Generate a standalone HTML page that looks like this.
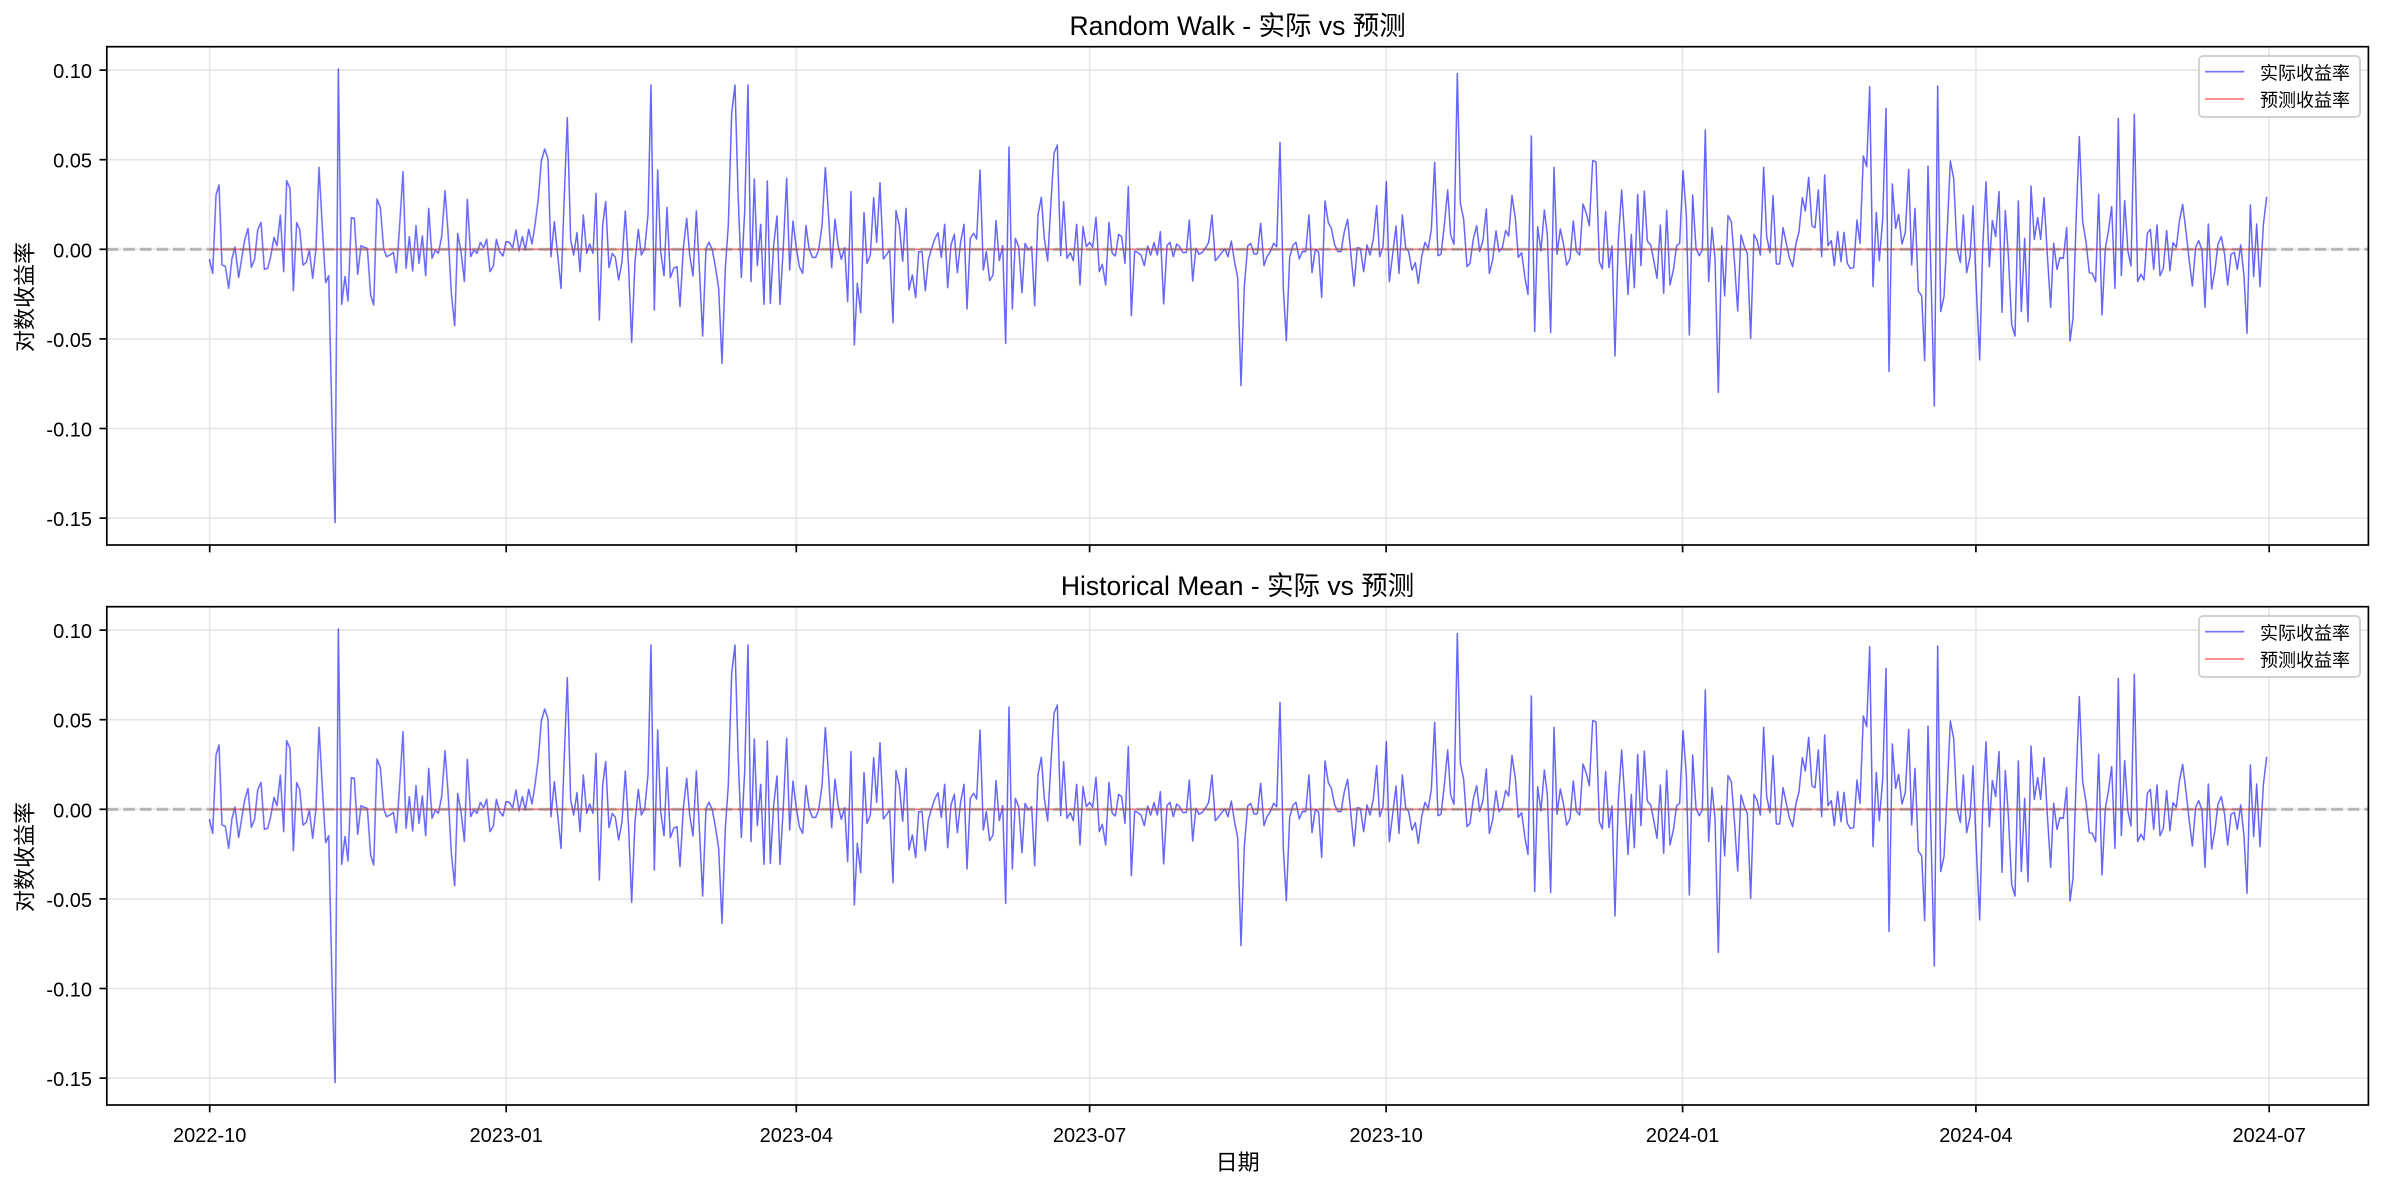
<!DOCTYPE html>
<html>
<head>
<meta charset="utf-8">
<style>
html,body{margin:0;padding:0;background:#fff;}
svg{display:block;}
text{font-family:"Liberation Sans","Noto Sans CJK SC",sans-serif;fill:#000;}
</style>
</head>
<body>
<svg width="2384" height="1186" viewBox="0 0 2384 1186" xmlns="http://www.w3.org/2000/svg">
<defs>
<g id="series" fill="none" stroke="#0000ff" stroke-width="1.5" stroke-linejoin="round">
<polyline transform="translate(200,55) scale(0.333333)" vector-effect="non-scaling-stroke" points="28,612 38,655 48,420 57,390 66,630 76,634 86,700 96,610 105,576 116,668 125,610 134,555 144,520 154,637 164,612 173,525 183,502 193,643 203,640 212,605 222,547 231,572 241,480 251,650 260,377 270,400 280,707 290,503 299,523 309,630 319,622 328,585 338,670 348,580 357,337 367,520 377,683 386,662 396,1100 405,1403 415,42 425,748 435,664 444,738 454,488 463,490 473,658 483,572 492,577 502,580 512,720 521,750 531,432 541,458 551,582 560,605 570,600 580,592 589,653 599,510 609,350 618,640 628,545 638,648 648,512 657,625 667,543 677,662 686,460 696,610 706,585 715,595 725,545 735,407 744,530 754,715 764,812 773,535 783,590 793,680 802,433 812,605 822,585 831,595 841,562 851,578 860,553 870,650 880,633 889,553 899,590 909,603 918,560 928,562 938,578 948,525 957,588 967,545 976,585 986,523 996,567 1005,510 1015,430 1024,318 1034,282 1044,312"/>
<polyline transform="translate(550,55) scale(0.333333)" vector-effect="non-scaling-stroke" points="-6,312 3,605 13,500 23,600 33,700 43,420 52,188 62,555 71,600 81,533 90,650 100,480 110,595 119,567 129,595 138,415 148,795 158,510 167,440 177,638 187,595 196,607 206,675 216,620 226,468 236,640 245,862 255,620 265,523 274,600 284,582 294,480 303,90 313,765 323,345 332,590 342,662 351,457 361,668 371,640 381,635 390,755 400,580 410,490 419,600 429,663 439,468 448,640 458,843 468,580 477,562 487,585 497,640 506,700 516,925 526,640 535,510 545,175 555,90 564,410 574,667 584,470 594,90 603,680 613,372 622,632 632,508 642,748 652,378 661,745 671,570 681,483 690,748 700,575 710,370 719,645 729,498 739,580 748,635 758,655 768,512 777,580 787,607 797,607 806,585 816,512 826,338 835,470 845,638 855,493 864,570 874,613 884,578 893,740 903,410 913,870 922,685 932,773 942,473 951,625 961,600 971,428 980,562 990,383 1000,612 1009,600 1019,585 1029,803 1038,467 1048,512 1058,620"/>
<polyline transform="translate(905,55) scale(0.333333)" vector-effect="non-scaling-stroke" points="-7,620 3,460 12,705 22,660 32,728 41,590 51,590 61,707 70,615 80,580 90,550 99,533 109,607 119,508 128,698 138,570 148,538 157,653 167,560 177,508 186,762 196,550 206,535 215,552 225,345 235,645 244,590 254,677 264,660 273,497 283,617 293,572 302,865 312,276 322,762 331,550 341,575 351,713 360,565 370,585 380,575 389,752 399,480 409,427 418,550 428,618 438,440 447,295 457,270 467,602 476,440 486,610 496,593 505,617 515,508 525,690 534,515 544,575 554,562 563,577 573,487 583,650 592,628 602,690 612,502 621,593 631,603 641,538 650,545 660,625 670,395 679,782 689,588 699,593 708,600 718,632 728,573 737,600 747,563 757,600 766,530 776,747 786,572 795,562 805,605 815,567 824,575 834,593 844,592 853,495 863,678 873,580 882,598 892,592 902,578 911,562 921,480 931,617 940,607 950,593 960,582 969,605 979,558 989,622 998,668 1008,992 1018,695 1028,573 1037,565 1047,597 1057,597"/>
<polyline transform="translate(1260,55) scale(0.333333)" vector-effect="non-scaling-stroke" points="-8,597 2,505 12,632 21,605 31,590 41,565 50,575 60,262 70,700 79,857 89,607 99,570 108,562 118,612 127,590 137,590 147,480 156,653 166,583 176,592 185,727 195,438 205,503 214,520 224,570 234,590 243,590 253,530 263,493 272,590 282,693 292,578 301,580 311,650 321,570 330,600 340,553 350,452 359,605 369,575 379,380 388,680 398,598 408,513 417,655 427,480 437,578 446,590 456,645 466,623 475,685 485,605 495,562 505,580 514,523 524,322 534,602 543,598 553,510 563,405 572,540 582,568 592,55 601,445 611,492 621,635 630,625 640,552 650,512 659,590 669,555 679,462 688,655 698,615 708,528 717,590 727,578 737,527 746,543 756,422 766,490 775,607 785,593 795,670 804,718 814,243 824,830 833,515 843,588 853,465 862,540 872,833 882,337 891,598 901,522 911,570 920,630 930,612 940,498 949,588 959,600 969,447 979,475 988,512 998,317 1008,320 1018,620 1027,642 1037,470 1047,638 1056,572"/>
<polyline transform="translate(1615,55) scale(0.333333)" vector-effect="non-scaling-stroke" points="-9,572 0,903 10,555 20,405 30,560 39,718 49,538 58,698 68,418 78,632 88,408 97,558 107,570 117,620 126,670 136,510 146,715 155,466 165,690 175,645 185,572 194,565 204,347 214,480 223,840 233,420 243,580 253,602 262,585 271,225 281,680 291,518 300,610 310,1012 320,573 329,723 339,482 349,500 359,628 368,768 378,540 388,575 397,595 407,850 417,538 426,555 436,600 446,337 455,545 465,593 474,422 484,627 494,627 504,518 514,565 523,608 533,635 543,565 552,530 562,428 571,468 581,367 591,513 600,518 610,405 620,605 629,360 639,572 649,557 658,632 668,530 678,620 687,532 697,625 706,640 716,638 726,495 735,565 745,303 755,335 764,95 774,695 784,472 793,617 803,493 813,160 822,950 832,387 842,520 851,478 861,567 871,532 881,343 890,630 900,460 910,708 920,723 929,917 939,333 949,700 958,1053 968,92"/>
<polyline transform="translate(1940,55) scale(0.333333)" vector-effect="non-scaling-stroke" points="-7,92 2,770 12,725 22,520 31,318 41,370 51,580 61,622 70,480 80,653 90,605 99,452 109,700 119,915 128,580 138,380 148,635 157,497 167,545 177,410 186,772 196,467 205,600 215,808 225,843 235,438 244,770 254,550 264,800 273,393 283,553 293,488 302,553 312,428 322,600 332,757 341,565 351,643 360,608 370,610 380,518 390,858 399,790 409,475 418,245 428,500 438,560 448,653 457,655 467,680 476,418 486,780 496,580 505,530 515,455 525,700 535,190 544,662 554,437 564,590 573,633 583,178 593,680 603,658 612,675 622,535 631,523 641,643 651,510 660,662 670,640 680,527 690,647 699,563 709,577 718,500 728,448 738,530 747,610 757,693 767,577 776,557 786,585 795,757 805,507 815,702 825,645 834,567 844,545 854,600 863,690 873,598 883,592 892,643 902,570 912,662 921,835 931,450 941,665 950,507 960,695 970,510 980,425"/>
</g>

<g id="panel">
  <g stroke="#e6e6e6" stroke-width="1.6">
    <line x1="106.8" y1="70.1" x2="2368.4" y2="70.1"/>
    <line x1="106.8" y1="159.7" x2="2368.4" y2="159.7"/>
    <line x1="106.8" y1="249.3" x2="2368.4" y2="249.3"/>
    <line x1="106.8" y1="338.9" x2="2368.4" y2="338.9"/>
    <line x1="106.8" y1="428.5" x2="2368.4" y2="428.5"/>
    <line x1="106.8" y1="518.1" x2="2368.4" y2="518.1"/>
    <line x1="209.7" y1="46.7" x2="209.7" y2="545"/>
    <line x1="506.2" y1="46.7" x2="506.2" y2="545"/>
    <line x1="796.3" y1="46.7" x2="796.3" y2="545"/>
    <line x1="1089.6" y1="46.7" x2="1089.6" y2="545"/>
    <line x1="1386.1" y1="46.7" x2="1386.1" y2="545"/>
    <line x1="1682.6" y1="46.7" x2="1682.6" y2="545"/>
    <line x1="1975.9" y1="46.7" x2="1975.9" y2="545"/>
    <line x1="2269.2" y1="46.7" x2="2269.2" y2="545"/>
  </g>
  <g opacity="0.6"><use href="#series"/></g>
  <line x1="209.7" y1="249.3" x2="2266.7" y2="249.3" stroke="#ff0000" stroke-opacity="0.5" stroke-width="1.7"/>
  <line x1="106.8" y1="249.3" x2="2368.4" y2="249.3" stroke="#808080" stroke-opacity="0.5" stroke-width="3.1" stroke-dasharray="11.6 5"/>
  <rect x="106.8" y="46.7" width="2261.6" height="498.3" fill="none" stroke="#000" stroke-width="1.7"/>
  <g stroke="#000" stroke-width="1.7">
    <line x1="99.5" y1="70.1" x2="106.8" y2="70.1"/>
    <line x1="99.5" y1="159.7" x2="106.8" y2="159.7"/>
    <line x1="99.5" y1="249.3" x2="106.8" y2="249.3"/>
    <line x1="99.5" y1="338.9" x2="106.8" y2="338.9"/>
    <line x1="99.5" y1="428.5" x2="106.8" y2="428.5"/>
    <line x1="99.5" y1="518.1" x2="106.8" y2="518.1"/>
    <line x1="209.7" y1="545" x2="209.7" y2="552.3"/>
    <line x1="506.2" y1="545" x2="506.2" y2="552.3"/>
    <line x1="796.3" y1="545" x2="796.3" y2="552.3"/>
    <line x1="1089.6" y1="545" x2="1089.6" y2="552.3"/>
    <line x1="1386.1" y1="545" x2="1386.1" y2="552.3"/>
    <line x1="1682.6" y1="545" x2="1682.6" y2="552.3"/>
    <line x1="1975.9" y1="545" x2="1975.9" y2="552.3"/>
    <line x1="2269.2" y1="545" x2="2269.2" y2="552.3"/>
  </g>
  <g font-size="20" text-anchor="end">
    <text x="92" y="78.1">0.10</text>
    <text x="92" y="167.7">0.05</text>
    <text x="92" y="257.3">0.00</text>
    <text x="92" y="346.9">-0.05</text>
    <text x="92" y="436.5">-0.10</text>
    <text x="92" y="526.1">-0.15</text>
  </g>
  <text transform="translate(32.5,297) rotate(-90)" text-anchor="middle" font-size="22">对数收益率</text>
  <rect x="2199" y="56" width="161" height="61" rx="4" ry="4" fill="#ffffff" fill-opacity="0.8" stroke="#cccccc" stroke-width="1.7"/>
  <line x1="2205" y1="71.7" x2="2244.3" y2="71.7" stroke="#0000ff" stroke-opacity="0.55" stroke-width="1.7"/>
  <line x1="2205" y1="99" x2="2244.3" y2="99" stroke="#ff0000" stroke-opacity="0.5" stroke-width="1.7"/>
  <text x="2260" y="79.5" font-size="18">实际收益率</text>
  <text x="2260" y="106.5" font-size="18">预测收益率</text>
</g>
</defs>

<rect x="0" y="0" width="2384" height="1186" fill="#ffffff"/>

<use href="#panel"/>
<text x="1237.6" y="35" font-size="26.5" text-anchor="middle">Random Walk - 实际 vs 预测</text>

<g transform="translate(0,560)"><use href="#panel"/></g>
<text x="1237.6" y="595" font-size="26.5" text-anchor="middle">Historical Mean - 实际 vs 预测</text>

<g font-size="20" text-anchor="middle">
  <text x="209.7" y="1142">2022-10</text>
  <text x="506.2" y="1142">2023-01</text>
  <text x="796.3" y="1142">2023-04</text>
  <text x="1089.6" y="1142">2023-07</text>
  <text x="1386.1" y="1142">2023-10</text>
  <text x="1682.6" y="1142">2024-01</text>
  <text x="1975.9" y="1142">2024-04</text>
  <text x="2269.2" y="1142">2024-07</text>
</g>
<text x="1237.6" y="1170" font-size="22" text-anchor="middle">日期</text>
</svg>
</body>
</html>
